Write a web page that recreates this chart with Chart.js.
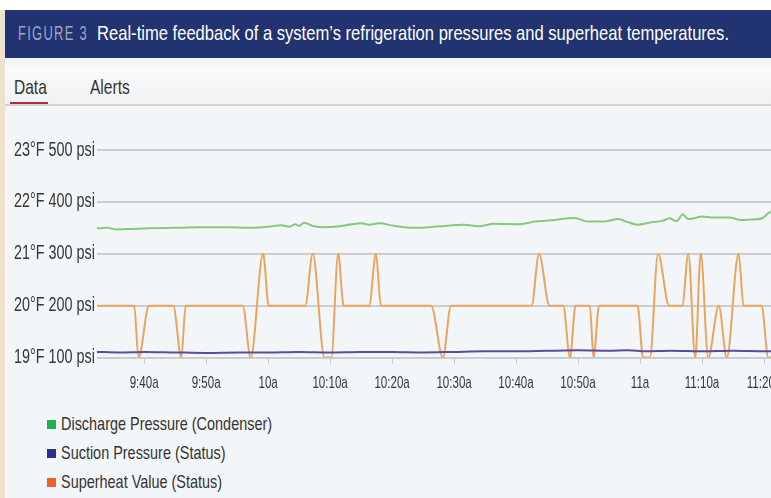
<!DOCTYPE html>
<html>
<head>
<meta charset="utf-8">
<script src="https://cdn.jsdelivr.net/npm/chart.js@4.4.0/dist/chart.umd.min.js"></script>
<style>
  html, body { margin: 0; padding: 0; }
  body {
    width: 771px; height: 498px; overflow: hidden; position: relative;
    background: #f3f6f9;
    font-family: "Liberation Sans", Arial, sans-serif;
  }
  .topgap { position: absolute; left: 0; top: 0; width: 771px; height: 10px; background: #fff; }
  .edge { position: absolute; left: 0; top: 10px; width: 5px; height: 488px; background: #ede2cc; }
  .banner { position: absolute; left: 5px; top: 10px; width: 766px; height: 48px; background: #213371; }
  .banner .fig { position: absolute; left: 13px; top: 12px; color: #9ea6c0; font-size: 20px; letter-spacing: 2px; white-space: nowrap; transform-origin: 0 0; }
  .banner .ttl { position: absolute; left: 92px; top: 11px; color: #fff; font-size: 21px; white-space: nowrap; transform-origin: 0 0; }
  .tabs { position: absolute; left: 5px; top: 66px; width: 766px; height: 38px; background: linear-gradient(#fafafa, #f1f2f3); border-bottom: 2px solid #d3d3d3; }
  .tab { position: absolute; top: 9px; font-size: 21px; color: #333; white-space: nowrap; transform: scaleX(0.74); transform-origin: 0 0; }
  .tab.on { left: 9px; }
  .tab.off { left: 85px; }
  .tabline { position: absolute; left: 10px; top: 102px; width: 38px; height: 2px; background: #a8343a; }
  #chart { position: absolute; left: 0; top: 130px; }
  #legend { position: absolute; left: 47px; top: 409px; }
  #legend div { height: 29px; line-height: 29px; white-space: nowrap; }
  #legend .key { display: inline-block; width: 9px; height: 9px; margin-right: 5px; vertical-align: 1px; }
  #legend .txt { display: inline-block; font-size: 19px; color: #333; transform: scaleX(0.76); transform-origin: 0 50%; }
</style>
</head>
<body>
<div class="topgap"></div>
<div class="edge"></div>
<div class="banner">
  <span class="fig" id="fig">FIGURE 3</span>
  <span class="ttl" id="ttl">Real-time feedback of a system’s refrigeration pressures and superheat temperatures.</span>
</div>
<div class="tabs">
  <span class="tab on">Data</span>
  <span class="tab off">Alerts</span>
</div>
<div class="tabline"></div>
<canvas id="chart" width="830" height="270"></canvas>
<div id="legend"></div>
<script>
"use strict"
// time is minutes after midnight (580 = 9:40a)
var xTicks = [580, 590, 600, 610, 620, 630, 640, 650, 660, 670, 680];
var yTicks = [100, 200, 300, 400, 500];

var dischargeTimes = [572.4, 574, 575.6, 578, 581, 585, 589, 593.7, 597, 600, 602.1, 603.4, 604.4, 605, 605.8, 607.4, 609, 611.5, 615, 616.3, 617.9, 620.3, 623.5, 627.6, 631.6, 634, 636.5, 640.8, 642.9, 645.2, 649.5, 651.6, 654.2, 656.5, 657.8, 659.7, 661.5, 663.4, 664.2, 664.8, 665.3, 665.9, 666.9, 667.7, 668.9, 669.9, 671.9, 674.4, 676.3, 677.9, 679.6, 681, 684];
var dischargePsi = [349, 350, 347, 348, 349, 350, 351, 351, 350, 352, 355, 352, 357, 354, 360, 353, 351, 353, 359, 356, 359, 354, 350, 353, 356, 353, 358, 357, 362, 364, 369, 362, 362, 367, 362, 356, 360, 363, 366, 369, 365, 363, 376, 367, 369, 372, 370, 370, 365, 366, 368, 380, 382];

var suctionTimes = [572.4, 576, 580, 585, 590, 595, 600, 605, 610, 615, 620, 625, 630, 635, 640, 645, 650, 655, 658, 661, 665, 670, 675, 680, 684];
var suctionPsi = [111, 110, 111, 110, 109, 110, 110, 111, 110, 111, 111, 110, 111, 112, 112, 113, 114, 113, 114, 112, 113, 112, 113, 112, 112];

var superheatTimes = [572.4, 578.4, 579.1, 580.8, 584.7, 586.0, 586.7, 595.9, 597.2, 599.2, 600.1, 606.0, 607.2, 609.1, 610.2, 611.3, 612.2, 616.3, 617.4, 618.2, 626.3, 628.2, 629.5, 642.5, 643.7, 645.4, 647.6, 648.7, 649.6, 651.9, 652.5, 653.4, 659.6, 660.5, 661.6, 662.9, 664.7, 666.8, 667.8, 668.9, 669.8, 671.0, 672.7, 674.0, 675.9, 676.7, 679.6, 680.7, 682];
var superheatF = [20, 20, 19, 20, 20, 19, 20, 20, 19, 21, 20, 20, 21, 19, 19, 21, 20, 20, 21, 20, 20, 19, 20, 20, 21, 20, 20, 19, 20, 20, 19, 20, 20, 19, 19, 21, 20, 20, 21, 19, 21, 19, 20, 19, 21, 20, 20, 19, 19];

var seriesNames = ["Discharge Pressure (Condenser)", "Suction Pressure (Status)", "Superheat Value (Status)"];
var lineColors = ["#86c97c", "#5a4c98", "#e9a560"];
var keyColors = ["#20b24a", "#2d2f8c", "#ec6128"];

var squeeze = 0.72;

function pts(xs, ys) {
    return xs.map(function(x, i) { return { x: x, y: ys[i] }; });
}

function timeLabel(v) {
    var h = Math.floor(v / 60), m = v % 60;
    return h + (m ? ":" + (m < 10 ? "0" + m : m) : "") + "a";
}

function yLabel(v) {
    return (18 + v / 100) + "°F " + v + " psi";
}

// the figure uses a condensed face, so tick labels are drawn squeezed
var narrowLabels = {
    id: "narrowLabels",
    afterDraw: function(chart) {
        var c = chart.ctx;
        var xs = chart.scales.x, ys = chart.scales.y;
        c.save();
        c.fillStyle = "#363636";
        c.textBaseline = "middle";
        c.font = "20px 'Liberation Sans'";
        c.textAlign = "right";
        ys.ticks.forEach(function(t) {
            c.save();
            c.translate(ys.right - 2, ys.getPixelForValue(t.value));
            c.scale(squeeze, 1);
            c.fillText(yLabel(t.value), 0, 0);
            c.restore();
        });
        c.font = "17px 'Liberation Sans'";
        c.textAlign = "center";
        xs.ticks.forEach(function(t) {
            c.save();
            c.translate(xs.getPixelForValue(t.value), chart.chartArea.bottom + 26);
            c.scale(0.68, 1);
            c.fillText(timeLabel(t.value), 0, 0);
            c.restore();
        });
        c.restore();
    }
};

var ctx = document.getElementById("chart");
var chart = new Chart(ctx, {
    type: "line",
    data: {
        datasets: [{
            label: seriesNames[0],
            data: pts(dischargeTimes, dischargePsi),
            borderColor: lineColors[0],
            yAxisID: "y"
        }, {
            label: seriesNames[1],
            data: pts(suctionTimes, suctionPsi),
            borderColor: lineColors[1],
            yAxisID: "y"
        }, {
            label: seriesNames[2],
            data: pts(superheatTimes, superheatF),
            borderColor: lineColors[2],
            yAxisID: "y2"
        }]
    },
    options: {
        responsive: false,
        animation: false,
        devicePixelRatio: 1,
        layout: { padding: { left: 0, right: 35, top: 20, bottom: 0 } },
        elements: {
            point: { radius: 0 },
            line: { borderWidth: 2, cubicInterpolationMode: "monotone", fill: false }
        },
        plugins: { legend: { display: false }, tooltip: { enabled: false } },
        scales: {
            x: {
                type: "linear",
                min: 572.4,
                max: 685,
                afterBuildTicks: function(scale) {
                    scale.ticks = xTicks.map(function(v) { return { value: v }; });
                },
                afterFit: function(scale) { scale.height = 42.4; },
                grid: { drawOnChartArea: false, drawTicks: true, tickLength: 6, color: "#bcc7d3" },
                border: { display: true, color: "#c3cdd8", width: 1 },
                ticks: { display: false }
            },
            y: {
                min: 100,
                max: 500,
                afterBuildTicks: function(scale) {
                    scale.ticks = yTicks.map(function(v) { return { value: v }; });
                },
                afterFit: function(scale) { scale.width = 97; },
                grid: { drawTicks: false, color: "#cfcdcb", lineWidth: 2 },
                border: { display: false },
                ticks: { display: false }
            },
            y2: {
                display: false,
                min: 19,
                max: 23
            }
        }
    },
    plugins: [narrowLabels]
});

// html legend from the chart's datasets
var legend = document.getElementById("legend");
chart.data.datasets.forEach(function(ds, i) {
    var row = document.createElement("div");
    var key = document.createElement("span");
    key.className = "key";
    key.style.background = keyColors[i];
    var txt = document.createElement("span");
    txt.className = "txt";
    txt.textContent = ds.label;
    row.appendChild(key);
    row.appendChild(txt);
    legend.appendChild(row);
});

// squeeze the banner texts to the widths in the figure
function fitWidth(id, w) {
    var el = document.getElementById(id);
    var r = el.getBoundingClientRect().width;
    el.style.transform = "scaleX(" + (w / r) + ")";
}
fitWidth("fig", 70);
fitWidth("ttl", 632);
</script>
</body>
</html>
